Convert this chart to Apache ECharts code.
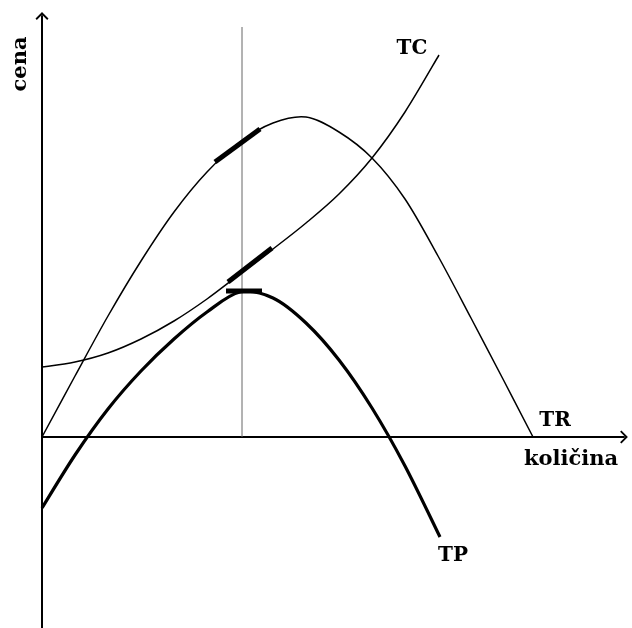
<!DOCTYPE html>
<html>
<head>
<meta charset="utf-8">
<script src="https://cdn.jsdelivr.net/npm/echarts@6/dist/echarts.min.js"></script>
<style>html,body{margin:0;padding:0;background:#fff}#c{width:632px;height:628px}</style>
</head>
<body>
<div id="c"></div>
<script>
// Total revenue (TR)
const trPoints = [[0,0],[33,61],[66,121],[99,176],[132,225],[165,265],[198,295],[231,314],[264,320],[297,305],[330,279],[363,238],[396,181],[429,119],[462,56],[491,0]];
// Total cost (TC)
const tcPoints = [[0,70],[33,75],[66,84],[99,98],[132,116],[165,138],[198,163],[231,188],[264,214],[297,243],[330,279],[363,325],[397,382]];
// Total profit (TP)
const tpPoints = [[0,-71],[33,-18],[66,28],[99,66],[132,98],[165,125],[198,145],[231,139],[264,114],[297,77],[330,29],[363,-29],[398,-100]];
// tangent marks and optimum quantity
const trTangent = [[173,275],[218,308]];
const tcTangent = [[186,155],[230,189]];
const tpTangent = [[184,146],[220,146]];
const optimumLine = [[200,0],[200,410]];
const labels = {y:'cena', x:'količina', tr:'TR', tc:'TC', tp:'TP'};

const chart = echarts.init(document.getElementById('c'));
const arrow = 'path://M0,0 L10,10 L8,12 L0,4 L-8,12 L-10,10 Z';
const font = 'DejaVu Serif';
function line(data, w, color){
  return {type:'line', data:data, symbol:'none', lineStyle:{color:color||'#000', width:w}, silent:true};
}
// smooth curve through the read points (Catmull-Rom rendered as cubic Bezier), positioned via api.coord
function curve(points, w){
  return {type:'custom', data:points, encode:{x:0, y:1}, silent:true,
    renderItem:function(params, api){
      if (params.dataIndex !== 0) return null;
      const p = points.map(function(d){ return api.coord(d); });
      let d = 'M' + p[0][0] + ',' + p[0][1];
      for (let i = 0; i < p.length - 1; i++) {
        const p0 = p[i-1] || p[i], p1 = p[i], p2 = p[i+1], p3 = p[i+2] || p[i+1];
        const c1x = p1[0] + (p2[0]-p0[0])/6, c1y = p1[1] + (p2[1]-p0[1])/6;
        const c2x = p2[0] - (p3[0]-p1[0])/6, c2y = p2[1] - (p3[1]-p1[1])/6;
        d += ' C' + c1x + ',' + c1y + ' ' + c2x + ',' + c2y + ' ' + p2[0] + ',' + p2[1];
      }
      return {type:'path', shape:{pathData:d}, style:{fill:'none', stroke:'#000', lineWidth:w, lineJoin:'round', lineCap:'butt'}};
    }};
}
chart.setOption({
  animation:false,
  grid:{left:42, right:8, top:16, bottom:0},
  xAxis:{type:'value', min:0, max:582, axisLine:{onZero:true, lineStyle:{color:'#000', width:2}, symbol:['none', arrow], symbolSize:[13,12]},
    axisTick:{show:false}, axisLabel:{show:false}, splitLine:{show:false}},
  yAxis:{type:'value', min:-191, max:421, axisLine:{lineStyle:{color:'#000', width:2}, symbol:['none', arrow], symbolSize:[13,12]},
    axisTick:{show:false}, axisLabel:{show:false}, splitLine:{show:false}},
  series:[
    line(optimumLine, 1, '#666'),
    curve(trPoints, 1.5),
    curve(tcPoints, 1.5),
    curve(tpPoints, 3.2),
    line(trTangent, 5, '#000'),
    line(tcTangent, 5, '#000'),
    line(tpTangent, 5, '#000')
  ],
  graphic:[
    {type:'text', x:21, y:64, rotation:Math.PI/2, style:{text:labels.y, font:'bold 21px "'+font+'"', fill:'#000', align:'center', verticalAlign:'middle'}},
    {type:'text', x:571, y:460, style:{text:labels.x, font:'bold 21px "'+font+'"', fill:'#000', align:'center', verticalAlign:'middle'}},
    {type:'text', x:555, y:421, style:{text:labels.tr, font:'bold 20px "'+font+'"', fill:'#000', align:'center', verticalAlign:'middle'}},
    {type:'text', x:412, y:49, style:{text:labels.tc, font:'bold 20px "'+font+'"', fill:'#000', align:'center', verticalAlign:'middle'}},
    {type:'text', x:453, y:556, style:{text:labels.tp, font:'bold 20px "'+font+'"', fill:'#000', align:'center', verticalAlign:'middle'}}
  ]
});
</script>
</body>
</html>
